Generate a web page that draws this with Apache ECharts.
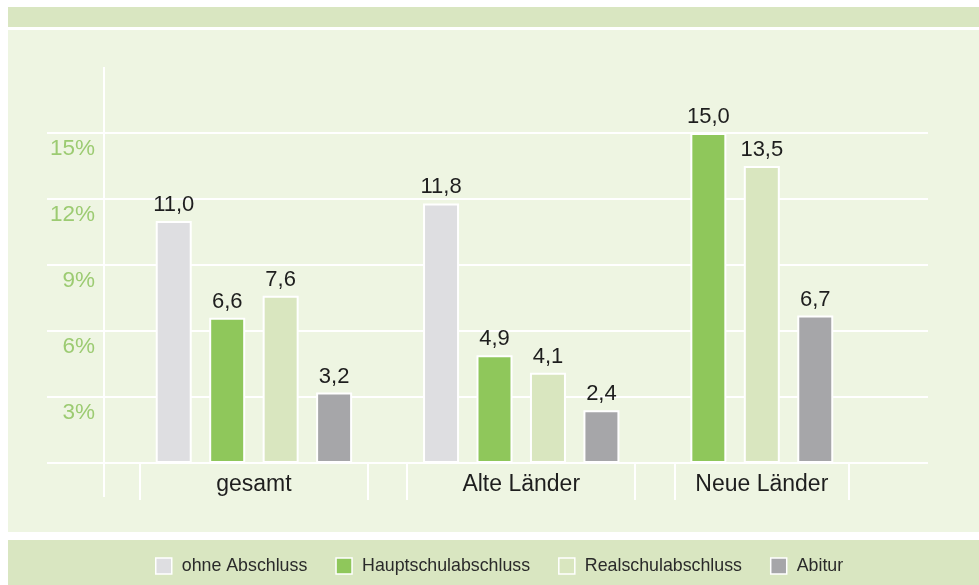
<!DOCTYPE html>
<html><head><meta charset="utf-8">
<script src="https://cdn.jsdelivr.net/npm/echarts@6/dist/echarts.min.js"></script>
<style>html,body{margin:0;padding:0;background:#fff}#c{width:979px;height:585px}</style>
</head><body><div id="c"></div>
<script>
// ---- data ----
const groups = ['gesamt', 'Alte Länder', 'Neue Länder'];
const seriesNames = ['ohne Abschluss', 'Hauptschulabschluss', 'Realschulabschluss', 'Abitur'];
const ohneAbschluss = [11.0, 11.8, null];
const hauptschulabschluss = [6.6, 4.9, 15.0];
const realschulabschluss = [7.6, 4.1, 13.5];
const abitur = [3.2, 2.4, 6.7];
const yMin = 0, yMax = 18, yStep = 3;

// ---- styles ----
const FONT = '"Liberation Sans", Arial, Helvetica, sans-serif';
const colors = ['#dedee1', '#8fc75b', '#d9e6bf', '#a6a6a9'];
const allSeries = [ohneAbschluss, hauptschulabschluss, realschulabschluss, abitur];

// slots: each bar gets its own slot, one empty slot between groups
const slots = [];
const spans = [];
groups.forEach((g, gi) => {
  if (gi > 0) slots.push(null);
  const first = slots.length;
  allSeries.forEach((arr, si) => { if (arr[gi] != null) slots.push({ si: si, v: arr[gi] }); });
  spans.push({ name: g, first: first, last: slots.length - 1 });
});
const slotCats = slots.map((s, i) => 's' + i);
const halfCats = [], halfLabels = [];
for (let i = 0; i <= 2 * slots.length; i++) { halfCats.push('h' + i); halfLabels.push(''); }
spans.forEach(sp => { halfLabels[sp.first + sp.last + 1] = sp.name; });

const chart = echarts.init(document.getElementById('c'));
const gridBars = { left: 147, right: 137, top: 67, bottom: 122 };
const gridLines = { left: 47, right: 51, top: 67, bottom: 122 };

const series = seriesNames.map((name, si) => ({
  name: name, type: 'bar', xAxisIndex: 0, yAxisIndex: 0,
  data: slots.map(s => (s && s.si === si) ? s.v : '-'),
  barWidth: 36, barGap: '-100%',
  itemStyle: { color: colors[si], borderColor: '#ffffff', borderWidth: 2 },
  label: {
    show: true, position: 'top', distance: 5, fontSize: 22, color: '#1e1e1e', fontFamily: FONT,
    formatter: p => Number(p.value).toFixed(1).replace('.', ',')
  },
  z: 3
}));

chart.setOption({
  animation: false,
  backgroundColor: '#ffffff',
  grid: [
    Object.assign({}, gridBars),
    Object.assign({}, gridLines)
  ],
  xAxis: [
    { type: 'category', gridIndex: 0, data: slotCats, show: true,
      axisLine: { show: false }, axisTick: { show: false }, axisLabel: { show: false } },
    { type: 'category', gridIndex: 0, data: halfCats, boundaryGap: false, position: 'bottom',
      axisLine: { show: false }, axisTick: { show: false },
      axisLabel: { interval: 0, margin: 10, fontSize: 23, color: '#1e1e1e', fontFamily: FONT,
        formatter: (v, i) => halfLabels[i] } },
    { type: 'value', gridIndex: 1, min: 0, max: 1, show: false }
  ],
  yAxis: [
    { type: 'value', gridIndex: 0, min: yMin, max: yMax, interval: yStep, show: false },
    { type: 'value', gridIndex: 1, min: yMin, max: yMax, interval: yStep,
      axisLine: { show: false }, axisTick: { show: false },
      splitLine: { show: true, showMaxLine: false, lineStyle: { color: '#ffffff', width: 2 } },
      axisLabel: { inside: true, align: 'right', margin: 48, verticalAlign: 'middle',
        showMinLabel: false, showMaxLabel: false,
        formatter: v => (v === yMin || v === yMax) ? '' : '{a|' + v + '%}',
        rich: { a: { padding: [31, 0, 0, 0], fontSize: 22.5, color: '#9ccb72', fontFamily: FONT } } } }
  ],
  legend: {
    data: seriesNames, left: 150, top: 552, itemWidth: 16, itemHeight: 16, itemGap: 28,
    icon: 'rect',
    itemStyle: { borderColor: '#ffffff', borderWidth: 1.5 },
    textStyle: { fontSize: 17.8, color: '#2a2a2a', fontFamily: FONT, padding: [0, 0, 0, 5] }
  },
  series: series
});

// decorative graphics positioned from the axes
const px = i => chart.convertToPixel({ xAxisIndex: 0 }, slotCats[i]);
const slotW = px(1) - px(0);
const y0 = chart.convertToPixel({ yAxisIndex: 1 }, yMin);
const yTop = chart.convertToPixel({ yAxisIndex: 1 }, yMax);
const pad = 7;
const els = [
  { type: 'rect', id: 'topband', z: -100, shape: { x: 8, y: 7, width: 971, height: 20 }, style: { fill: '#d9e6c1' }, silent: true },
  { type: 'rect', id: 'panel', z: -100, shape: { x: 8, y: 30, width: 971, height: 502 }, style: { fill: '#eef5e2' }, silent: true },
  { type: 'rect', id: 'legband', z: -100, shape: { x: 8, y: 540, width: 971, height: 45 }, style: { fill: '#d9e6c1' }, silent: true },
  { type: 'line', id: 'vline', z: -50, shape: { x1: 104, y1: yTop, x2: 104, y2: y0 + 34 }, style: { stroke: '#ffffff', lineWidth: 2 }, silent: true }
];
spans.forEach((sp, k) => {
  const xl = Math.round(px(sp.first) - slotW / 2 - pad);
  const xr = Math.round(px(sp.last) + slotW / 2 + pad);
  [xl, xr].forEach((x, j) => els.push({ type: 'line', id: 'sep' + k + '_' + j, z: -50,
    shape: { x1: x, y1: y0, x2: x, y2: y0 + 37 }, style: { stroke: '#ffffff', lineWidth: 2 }, silent: true }));
});
chart.setOption({ graphic: { elements: els } });
</script>
</body></html>
